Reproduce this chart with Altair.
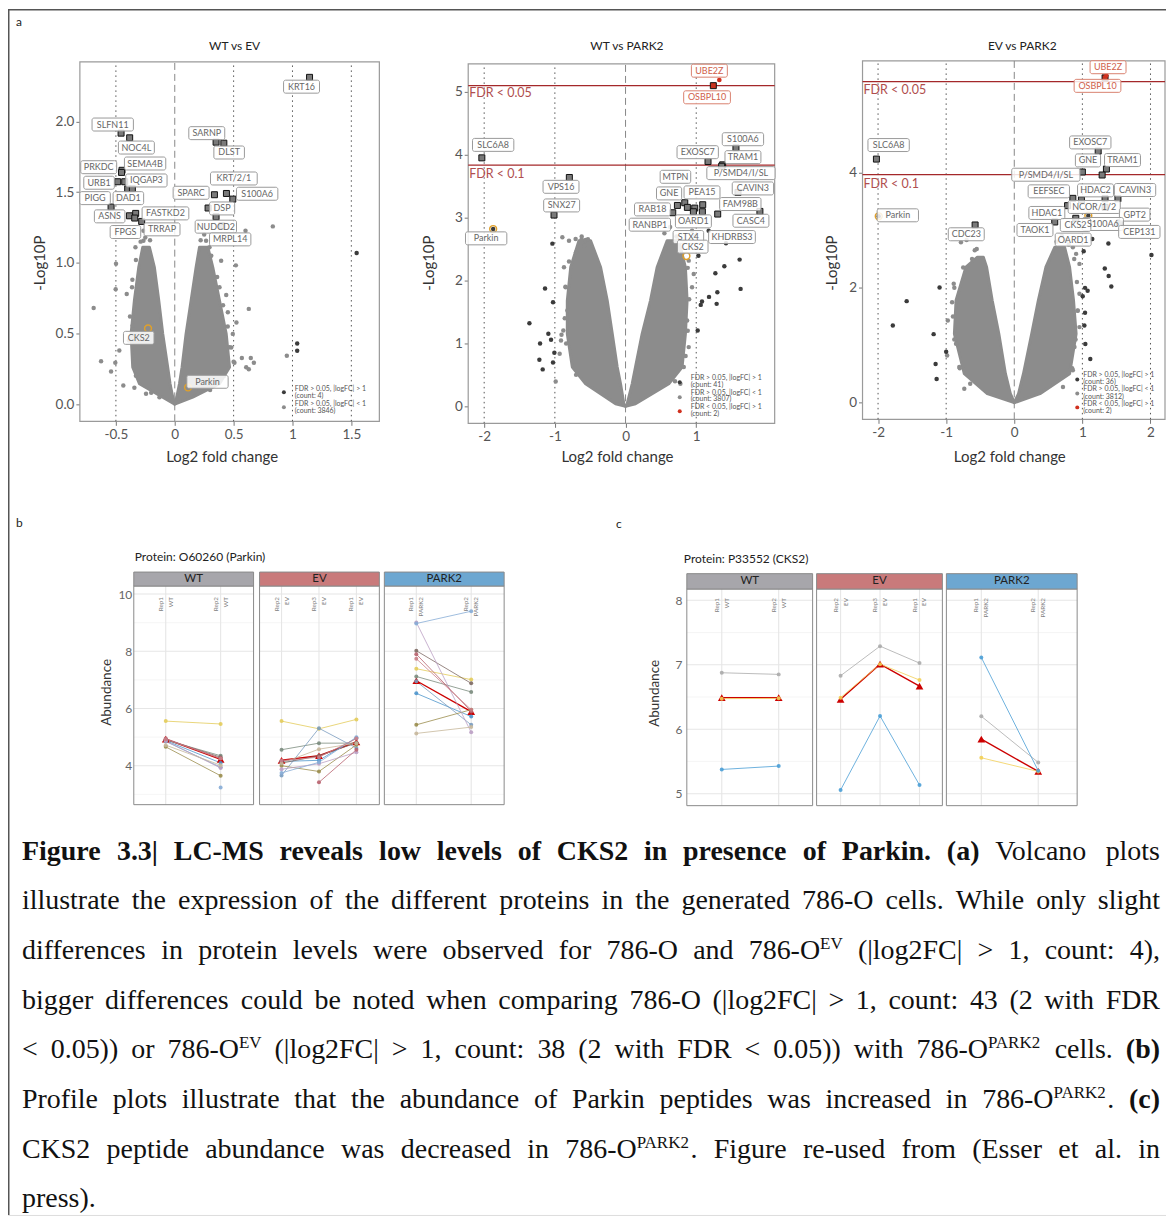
import altair as alt
import pandas as pd

W, H = 1160, 1208
SANS = "Lato"
SERIF = "Liberation Serif"

# =============== Panel a1: WT vs EV ===============
a1_cloud_y = [0, 0.049, 0.144, 0.261, 0.497, 0.733, 0.968, 1.110]
a1_left_outer = [0, -0.102, -0.300, -0.357, -0.371, -0.343, -0.306, -0.272]
a1_left_inner = [0, -0.017, -0.040, -0.060, -0.102, -0.136, -0.173, -0.215]
a1_right_inner = [0, 0.017, 0.040, 0.062, 0.096, 0.139, 0.181, 0.210]
a1_right_outer = [0, 0.153, 0.380, 0.465, 0.437, 0.380, 0.323, 0.281]
a1_gray_x = [0.833, -0.689, -0.626, -0.541, -0.505, -0.502, -0.499, 0.519, 0.524, 0.629, 0.570, 0.646,
             0.672, 0.607, 0.629, 0.507, 0.952, 0.601, 0.437, 0.451, 0.380, 0.266, 0.295, 0.394,
             -0.437, -0.343, -0.471, -0.357, -0.408, -0.363, -0.334, -0.266, -0.266, 0.210, 0.323,
             -0.130, 0.465, 0.493, -0.244,
             -0.39, -0.38, -0.36, -0.33, -0.29, -0.25, -0.21, 0.22, 0.25, 0.31, 0.36, 0.41, 0.45, 0.48,
             0.50, 0.42, 0.30, -0.33, -0.20]
a1_gray_y = [1.258, 0.681, 0.304, 0.231, 0.292, 0.813, 0.994, 0.982, 0.577, 0.674, 0.327, 0.327,
             0.292, 0.261, 0.247, 0.292, 0.342, 1.227, 0.773, 0.650, 0.827, 1.157, 1.110, 1.015,
             0.132, 0.115, 0.379, 0.556, 0.780, 0.827, 1.110, 1.157, 1.227, 0.097, 0.144,
             0.049, 0.403, 0.497, 0.073,
             0.45, 0.62, 0.88, 1.02, 1.15, 1.18, 1.16, 1.16, 1.20, 1.05, 0.90, 0.70, 0.55, 0.40,
             0.30, 0.20, 0.10, 0.20, 0.08]
a1_dark_x = [1.545, 1.040, 1.040]
a1_dark_y = [1.070, 0.429, 0.377]
a1_sq_x = [1.145, -0.456, -0.383, -0.448, -0.452, -0.485, -0.425, -0.400, -0.360, -0.541, -0.385,
           -0.332, -0.340, -0.281, 0.351, 0.417, 0.439, 0.337, 0.493, 0.283, 0.351, 0.400]
a1_sq_y = [2.313, 1.918, 1.885, 1.655, 1.640, 1.574, 1.574, 1.524, 1.524, 1.395, 1.333,
           1.350, 1.317, 1.293, 1.854, 1.847, 1.491, 1.482, 1.451, 1.388, 1.326, 1.262]
a1_lab_text = ["KRT16", "SLFN11", "NOC4L", "SEMA4B", "PRKDC", "URB1", "IQGAP3", "DAD1", "PIGG", "ASNS",
               "FASTKD2", "FPGS", "TRRAP", "SARNP", "DLST", "KRT/2/1", "SPARC", "S100A6", "DSP",
               "NUDCD2", "MRPL14", "CKS2", "Parkin"]
a1_lab_x = [1.077, -0.527, -0.326, -0.252, -0.646, -0.643, -0.241, -0.394, -0.677, -0.553, -0.079,
            -0.419, -0.108, 0.272, 0.462, 0.502, 0.139, 0.700, 0.402, 0.349, 0.471, -0.306, 0.278]
a1_lab_y = [2.247, 1.979, 1.816, 1.703, 1.677, 1.567, 1.583, 1.458, 1.458, 1.329, 1.350,
            1.218, 1.237, 1.918, 1.781, 1.597, 1.496, 1.489, 1.385, 1.256, 1.166, 0.469, 0.158]
a1_lab_red = [0] * 23
a1_ring_x = [-0.227, 0.113]
a1_ring_y = [0.535, 0.118]
a1_legend_text = ["FDR > 0.05, |logFC| > 1", "(count: 4)", "FDR > 0.05, |logFC| < 1", "(count: 3846)"]
a1_legend_ty = [0.104, 0.054, -0.002, -0.052]
a1_legend_dy = [0.083, -0.023]

# =============== Panel a2: WT vs PARK2 ===============
a2_cloud_y = [0, 0.042, 0.359, 0.624, 1.152, 1.681, 2.209, 2.632]
a2_left_outer = [0, -0.141, -0.565, -0.753, -0.824, -0.824, -0.776, -0.659]
a2_left_inner = [0, -0.024, -0.071, -0.118, -0.188, -0.259, -0.353, -0.494]
a2_right_inner = [0, 0.024, 0.094, 0.141, 0.235, 0.353, 0.447, 0.588]
a2_right_outer = [0, 0.141, 0.612, 0.800, 0.847, 0.871, 0.847, 0.753]
a2_gray_x = [-0.894, -0.800, -0.706, -0.621, -0.565, -0.532, -0.913, -0.880, -0.932, -0.988, -0.906,
             -0.847, -0.824, -0.871, 0.941, 0.988, 0.800, 0.894, 0.941, 0.871, 0.776, 0.894, 0.965,
             0.824, 0.659, 0.565,
             -0.62, -0.58, -0.70, -0.80, -0.85, -0.86, -0.84, -0.70, 0.55, 0.63, 0.72, 0.82, 0.88,
             0.90, 0.88, 0.85, 0.70]
a2_gray_y = [2.685, 2.632, 2.659, 2.653, 2.643, 2.653, 1.047, 1.205, 0.835, 0.396, 1.136,
             1.892, 1.522, 2.209, 2.791, 2.711, 2.421, 2.315, 1.892, 1.364, 0.359, 0.941, 2.104,
             0.624, 2.606, 2.500,
             2.70, 2.55, 2.45, 2.30, 1.90, 1.40, 1.00, 0.50, 2.75, 2.85, 2.70, 2.60, 2.20,
             1.70, 1.20, 0.80, 0.40]
a2_dark_x = [-1.360, -1.209, -1.219, -1.172, -1.139, -1.092, -1.054, -1.035, -1.026, -1.007, -1.026,
             1.614, 1.628, 1.398, 1.271, 1.299, 1.289, 1.181, 1.082, 1.064, 1.021, 1.031, 1.421, 1.176,
             -1.873]
a2_dark_y = [1.321, 0.999, 0.740, 0.587, 1.871, 1.152, 1.057, 2.585, 1.654, 0.851, 0.698,
             2.331, 1.866, 2.225, 2.114, 1.813, 1.628, 1.739, 1.665, 1.612, 1.205, 2.394, 2.590, 2.791,
             2.817]
a2_sq_x = [-2.033, -0.795, -1.012, 1.167, 1.562, 1.374, 1.360, 0.838, 0.875, 0.979, 0.960, 1.087,
           0.668, 0.734, 1.092, 1.304, 1.591, 1.901]
a2_sq_y = [3.948, 3.636, 3.039, 3.890, 4.107, 3.837, 3.815, 3.235, 3.161, 3.150, 3.092, 3.092,
           3.076, 3.192, 3.203, 3.055, 3.399, 3.097]
a2_redsq_x, a2_redsq_y = [1.242], [5.095]
a2_red_x, a2_red_y = [1.327], [5.185]
a2_lab_text = ["UBE2Z", "OSBPL10", "SLC6A8", "S100A6", "EXOSC7", "TRAM1", "P/SMD4/I/SL", "VPS16", "SNX27",
               "Parkin", "MTPN", "GNE", "PEA15", "CAVIN3", "FAM98B", "RAB18", "CASC4", "RANBP1", "OARD1",
               "STX4", "KHDRBS3", "CKS2"]
a2_lab_x = [1.186, 1.153, -1.873, 1.661, 1.021, 1.661, 1.633, -0.913, -0.904, -1.972, 0.706, 0.616, 1.082,
            1.802, 1.624, 0.381, 1.774, 0.344, 0.960, 0.889, 1.506, 0.951]
a2_lab_y = [5.333, 4.910, 4.154, 4.244, 4.038, 3.959, 3.705, 3.488, 3.192, 2.669, 3.647, 3.383, 3.399,
            3.462, 3.214, 3.129, 2.949, 2.886, 2.939, 2.690, 2.690, 2.537]
a2_lab_red = [1, 1] + [0] * 20
a2_ring_x = [-1.873, 0.861]
a2_ring_y = [2.817, 2.389]
a2_fdr_y = [5.095, 3.832]
a2_fdr_text = ["FDR < 0.05", "FDR < 0.1"]
a2_fdr_ty = [4.984, 3.694]
a2_legend_text = ["FDR > 0.05, |logFC| > 1", "(count: 41)", "FDR > 0.05, |logFC| < 1", "(count: 3807)",
                  "FDR < 0.05, |logFC| > 1", "(count: 2)"]
a2_legend_ty = [0.444, 0.333, 0.206, 0.111, -0.016, -0.127]
a2_legend_dy = [0.381, 0.143, -0.079]

# =============== Panel a3: EV vs PARK2 ===============
a3_cloud_yl = [0, 0.156, 0.504, 1.198, 1.777, 2.356, 2.530]
a3_left_outer = [0, -0.396, -0.734, -0.879, -0.855, -0.710, -0.541]
a3_left_inner = [0, -0.058, -0.130, -0.227, -0.324, -0.406, -0.454]
a3_cloud_yr = [0, 0.156, 0.504, 1.198, 1.777, 2.356, 2.703]
a3_right_inner = [0, 0.063, 0.135, 0.256, 0.353, 0.464, 0.594]
a3_right_outer = [0, 0.377, 0.812, 0.908, 0.870, 0.812, 0.739]
a3_gray_x = [-0.783, -0.700, -0.551, -0.889, -0.913, -0.976, -0.855, -0.986, -0.734, -0.647, -0.807,
             0.763, 0.860, 0.957, 0.957, 0.957, 0.860, 0.715, 0.908, 0.932, 0.884,
             -0.58, -0.62, -0.75, -0.88, -0.90, -0.88, -0.80, 0.62, 0.70, 0.80, 0.88, 0.92, 0.93, 0.90, 0.85]
a3_gray_y = [2.790, 2.831, 2.674, 2.067, 1.748, 1.430, 1.025, 0.822, 0.243, 0.330, 0.619,
             2.819, 2.703, 2.414, 1.893, 1.314, 0.562, 0.272, 2.588, 1.603, 0.967,
             2.65, 2.50, 2.35, 2.00, 1.50, 1.10, 0.60, 2.80, 2.90, 2.75, 2.50, 2.10, 1.60, 1.10, 0.60]
a3_dark_x = [-1.097, -1.580, -1.783, -1.184, -1.000, -1.155, -1.140,
             2.014, 1.382, 1.145, 1.019, 1.329, 1.386, 1.425, 1.039, 1.077, 1.005, 1.039, 1.029, 1.043, 1.116,
             -1.990, 1.087]
a3_dark_y = [2.003, 1.766, 1.343, 1.192, 0.886, 0.671, 0.411,
             2.570, 2.767, 2.848, 2.634, 2.333, 2.205, 2.020, 1.997, 1.945, 1.852, 1.563, 1.343, 1.019, 0.758,
             3.242, 3.253]
a3_sq_x = [-2.024, 1.232, 1.000, 1.353, 1.290, 0.860, 0.986, 1.333, 1.522, 0.783, 1.333, 0.594, 1.546,
           -0.575, 0.903]
a3_sq_y = [4.237, 4.376, 4.012, 4.064, 3.960, 3.554, 3.525, 3.548, 3.548, 3.427, 3.398, 3.143, 3.126,
           3.091, 3.207]
a3_redsq_x, a3_redsq_y = [1.333], [5.650]
a3_red_x, a3_red_y = [1.352], [5.690]
a3_lab_text = ["UBE2Z", "OSBPL10", "SLC6A8", "EXOSC7", "GNE", "TRAM1", "P/SMD4/I/SL", "EEFSEC", "HDAC2",
               "CAVIN3", "NCOR/1/2", "HDAC1", "GPT2", "Parkin", "CDC23", "TAOK1", "S100A6", "CKS2",
               "CEP131", "OARD1"]
a3_lab_x = [1.377, 1.222, -1.845, 1.116, 1.082, 1.589, 0.464, 0.507, 1.193, 1.773, 1.174, 0.478, 1.768,
            -1.710, -0.705, 0.304, 1.300, 0.900, 1.836, 0.865]
a3_lab_y = [5.835, 5.511, 4.481, 4.527, 4.214, 4.220, 3.965, 3.676, 3.693, 3.699, 3.404, 3.300, 3.271,
            3.259, 2.929, 3.004, 3.108, 3.091, 2.970, 2.836]
a3_lab_red = [1, 1] + [0] * 18
a3_ring_x = [-1.990, 1.087]
a3_ring_y = [3.242, 3.253]
a3_fdr_y = [5.586, 3.965]
a3_fdr_text = ["FDR < 0.05", "FDR < 0.1"]
a3_fdr_ty = [5.436, 3.809]
a3_legend_text = ["FDR > 0.05, |logFC| > 1", "(count: 36)", "FDR > 0.05, |logFC| < 1", "(count: 3812)",
                  "FDR < 0.05, |logFC| > 1", "(count: 2)"]
a3_legend_ty = [0.474, 0.352, 0.231, 0.092, -0.030, -0.151]
a3_legend_dy = [0.405, 0.161, -0.082]

# =============== Panel b: Parkin profile ===============
b_cats = {"WT": ["Rep1", "Rep2"], "EV": ["Rep2", "Rep3", "Rep1"], "PARK2": ["Rep1", "Rep2"]}
b_colors = ["#E3CC5B", "#7B8C7E", "#4C95CC", "#7A9CBF", "#9A8D4C", "#7E6A64", "#BBA0C4", "#B8626E",
            "#86ACD6", "#C6B79B", "#C97D86"]
b_WT = [[5.56, 5.46], [4.90, 4.35], [4.88, 4.10], [4.85, 3.95], [4.66, 3.65], [4.92, 4.30],
        [4.87, 3.92], [4.95, 4.26], [None, 3.24], [4.72, 4.02], [4.93, 4.25]]
b_EV = [[5.56, 5.29, 5.62], [4.56, 4.79, 4.79], [4.15, 4.19, 4.97], [3.66, 5.31, 4.62], [4.00, 3.80, 4.73],
        [4.09, 4.35, 4.80], [3.88, 4.07, 4.47], [None, 3.42, 4.56], [3.75, 4.12, 5.00], [4.09, 4.58, 4.79],
        [4.18, 4.30, 4.95]]
b_PK = [[7.39, 7.01], [7.12, 6.58], [6.53, 5.72], [6.95, 5.43], [5.43, 5.96], [8.02, 6.88], [9.01, 5.17],
        [7.90, 5.90], [8.97, 9.40], [5.13, 5.35], [7.74, 5.96]]
b_mean = {"WT": [4.93, 4.22], "EV": [4.19, 4.35, 4.83], "PARK2": [6.97, 5.89]}

# =============== Panel c: CKS2 profile ===============
c_cats = b_cats
c_colors = ["#ABABAB", "#F2CF55", "#4A9ED6"]
c_WT = [[6.876, 6.851], [6.474, 6.479], [5.376, 5.428]]
c_EV = [[6.830, 7.289, 7.026], [6.490, 7.010, 6.763], [5.057, 6.206, 5.134]]
c_PK = [[6.201, 5.485], [5.557, 5.345], [7.113, 5.356]]
c_mean = {"WT": [6.49, 6.49], "EV": [6.464, 7.010, 6.670], "PARK2": [5.845, 5.345]}

STRIP_COLORS = {"WT": "#A7A6AB", "EV": "#C97A7B", "PARK2": "#6DA7D1"}

CAPTION = [
    "**Figure 3.3| LC-MS reveals low levels of CKS2 in presence of Parkin. (a)** Volcano plots",
    "illustrate the expression of the different proteins in the generated 786-O cells. While only slight",
    "differences in protein levels were observed for 786-O and 786-O^{EV} (|log2FC| > 1, count: 4),",
    "bigger differences could be noted when comparing 786-O (|log2FC| > 1, count: 43 (2 with FDR",
    "< 0.05)) or 786-O^{EV} (|log2FC| > 1, count: 38 (2 with FDR < 0.05)) with 786-O^{PARK2} cells. **(b)**",
    "Profile plots illustrate that the abundance of Parkin peptides was increased in 786-O^{PARK2}. **(c)**",
    "CKS2 peptide abundance was decreased in 786-O^{PARK2}. Figure re-used from (Esser et al. in",
    "press).",
]


def frame(xd, yd):
    return pd.DataFrame({"x": [xd[0]], "x2": [xd[1]], "y": [yd[0]], "y2": [yd[1]]})


def volcano(c):
    xd, yd, xr, yr = c["xd"], c["yd"], c["xr"], c["yr"]
    kx = (xr[1] - xr[0]) / (xd[1] - xd[0])
    ky = (yr[0] - yr[1]) / (yd[1] - yd[0])
    sx = alt.Scale(domain=xd, range=xr, nice=False, zero=False)
    sy = alt.Scale(domain=yd, range=yr, nice=False, zero=False)
    xax = alt.Axis(orient="bottom", offset=yr[0] - H, values=c["xticks"], labelExpr="'' + datum.value",
                   grid=False, domain=False, tickColor="#777", tickSize=4, labelColor="#555", labelFont=SANS,
                   labelFontSize=13.5, labelPadding=2, labelFlush=False, labelOverlap=False,
                   title="Log2 fold change", titleFont=SANS, titleFontSize=15, titleFontWeight="normal",
                   titleColor="#333", titleY=c["xty"], titleX=c["xtx"], titleBaseline="middle")
    yax = alt.Axis(orient="left", offset=-xr[0], values=c["yticks"], format=c["yfmt"],
                   grid=False, domain=False, tickColor="#777", tickSize=4, labelColor="#555", labelFont=SANS,
                   labelFontSize=13.5, labelPadding=2, labelFlush=False, labelOverlap=False,
                   title="-Log10P", titleFont=SANS, titleFontSize=15, titleFontWeight="normal",
                   titleColor="#333", titleX=c["ytx"], titleY=254, titleBaseline="middle")
    X = alt.X("x:Q", scale=sx, axis=xax)
    Y = alt.Y("y:Q", scale=sy, axis=yax)
    X2, Y2 = alt.X2("x2"), alt.Y2("y2")
    L = []
    L.append(alt.Chart(frame(xd, yd)).mark_rect(fill="white", stroke="#9a9a9a", strokeWidth=1.2)
             .encode(x=X, x2=X2, y=Y, y2=Y2))
    vd = c["vdot"]
    L.append(alt.Chart(pd.DataFrame({"x": vd, "y": [yd[0]] * len(vd), "y2": [yd[1]] * len(vd)}))
             .mark_rule(color="#555", strokeWidth=1, strokeDash=[1.5, 3.5]).encode(x=X, y=Y, y2=Y2))
    L.append(alt.Chart(pd.DataFrame({"x": [0], "y": [yd[0]], "y2": [yd[1]]}))
             .mark_rule(color="#888", strokeWidth=1, strokeDash=[7, 4]).encode(x=X, y=Y, y2=Y2))
    for cy, co, ci in c["cloud"]:
        L.append(alt.Chart(pd.DataFrame({"y": cy, "x": co, "x2": ci}))
                 .mark_area(orient="horizontal", color="#8c8c8c", stroke="#8c8c8c", strokeWidth=3,
                            strokeJoin="round", opacity=1)
                 .encode(y=Y, x=X, x2=X2))
    L.append(alt.Chart(pd.DataFrame({"x": c["gx"], "y": c["gy"]}))
             .mark_circle(size=20, color="#8c8c8c", opacity=1).encode(x=X, y=Y))
    L.append(alt.Chart(pd.DataFrame({"x": c["dx"], "y": c["dy"]}))
             .mark_circle(size=20, color="#3b3b3b", opacity=1).encode(x=X, y=Y))
    if c.get("fdr"):
        L.append(alt.Chart(pd.DataFrame({"y": c["fdr"], "x": [xd[0]] * 2, "x2": [xd[1]] * 2}))
                 .mark_rule(color="#A4282A", strokeWidth=1.3).encode(y=Y, x=X, x2=X2))
    L.append(alt.Chart(pd.DataFrame({"x": c["sx"], "y": c["sy"]}))
             .mark_square(size=36, color="#7a7a7a", stroke="#111", strokeWidth=1, opacity=1)
             .encode(x=X, y=Y))
    if c.get("rsx"):
        L.append(alt.Chart(pd.DataFrame({"x": c["rsx"], "y": c["rsy"]}))
                 .mark_square(size=36, color="#C8321E", stroke="#111", strokeWidth=1, opacity=1)
                 .encode(x=X, y=Y))
        L.append(alt.Chart(pd.DataFrame({"x": c["rx"], "y": c["ry"]}))
                 .mark_circle(size=22, color="#D0301E", opacity=1).encode(x=X, y=Y))
    L.append(alt.Chart(pd.DataFrame({"x": c["ringx"], "y": c["ringy"]}))
             .mark_point(shape="circle", filled=False, size=48, stroke="#E0A02A", strokeWidth=1.4, opacity=1)
             .encode(x=X, y=Y))
    # label boxes
    t, lx, ly, red = c["lt"], c["lx"], c["ly"], c["lred"]
    hw = [(len(s) * 5.4 + 9) / 2 / kx for s in t]
    hh = 6.5 / ky
    box = pd.DataFrame({"x": [a - w for a, w in zip(lx, hw)], "x2": [a + w for a, w in zip(lx, hw)],
                        "y": [b - hh for b in ly], "y2": [b + hh for b in ly],
                        "s": ["#D9826F" if r else "#9a9a9a" for r in red]})
    L.append(alt.Chart(box).mark_rect(fill="white", fillOpacity=0.85, strokeWidth=1, cornerRadius=2)
             .encode(x=X, x2=X2, y=Y, y2=Y2, stroke=alt.Stroke("s:N", scale=None)))
    L.append(alt.Chart(pd.DataFrame({"x": lx, "y": ly, "t": t,
                                     "c": ["#D0604A" if r else "#666" for r in red]}))
             .mark_text(font=SANS, fontSize=9, baseline="middle", align="center")
             .encode(x=X, y=Y, text="t:N", color=alt.Color("c:N", scale=None)))
    if c.get("fdr"):
        L.append(alt.Chart(pd.DataFrame({"x": [xd[0] + 1 / kx] * 2, "y": c["fty"], "t": c["ftxt"]}))
                 .mark_text(font=SANS, fontSize=12.5, baseline="middle", align="left", color="#B04E4E")
                 .encode(x=X, y=Y, text="t:N"))
    # legend
    n = len(c["legd"])
    dcol = ["#3b3b3b", "#8c8c8c", "#D0301E"][:n]
    L.append(alt.Chart(pd.DataFrame({"x": [c["legdx"]] * n, "y": c["legd"], "c": dcol}))
             .mark_circle(size=16, opacity=1).encode(x=X, y=Y, color=alt.Color("c:N", scale=None)))
    L.append(alt.Chart(pd.DataFrame({"x": [c["legtx"]] * len(c["legt"]), "y": c["legty"], "t": c["legt"]}))
             .mark_text(font=SANS, fontSize=7, baseline="middle", align="left", color="#555")
             .encode(x=X, y=Y, text="t:N"))
    return alt.layer(*L)


def profile(p):
    xd, yd, xr, yr = p["xd"], p["yd"], p["xr"], p["yr"]
    kx = (xr[1] - xr[0]) / (xd[1] - xd[0])
    ky = (yr[0] - yr[1]) / (yd[1] - yd[0])
    sx = alt.Scale(domain=xd, range=xr, nice=False, zero=False)
    sy = alt.Scale(domain=yd, range=yr, nice=False, zero=False)
    if p["yaxis"]:
        yax = alt.Axis(orient="left", offset=-xr[0], values=p["yticks"], grid=False, domain=False, ticks=False,
                       labelColor="#666", labelFont=SANS, labelFontSize=12, labelPadding=p["lpad"],
                       labelFlush=False, labelOverlap=False, title="Abundance", titleFont=SANS,
                       titleFontSize=13.5, titleFontWeight="normal", titleColor="#333",
                       titleX=p["tx"], titleY=p["ty"], titleBaseline="middle")
    else:
        yax = None
    X = alt.X("x:Q", scale=sx, axis=None)
    Y = alt.Y("y:Q", scale=sy, axis=yax)
    X2, Y2 = alt.X2("x2"), alt.Y2("y2")
    cats = p["cats"]
    nc = len(cats)
    L = []
    L.append(alt.Chart(frame(xd, yd)).mark_rect(fill="white").encode(x=X, x2=X2, y=Y, y2=Y2))
    mn, mj = p["minor"], p["major"]
    L.append(alt.Chart(pd.DataFrame({"y": mn, "x": [xd[0]] * len(mn), "x2": [xd[1]] * len(mn)}))
             .mark_rule(color="#F1F1F1", strokeWidth=0.7).encode(y=Y, x=X, x2=X2))
    L.append(alt.Chart(pd.DataFrame({"y": mj, "x": [xd[0]] * len(mj), "x2": [xd[1]] * len(mj)}))
             .mark_rule(color="#E6E6E6", strokeWidth=1.1).encode(y=Y, x=X, x2=X2))
    L.append(alt.Chart(pd.DataFrame({"x": list(range(nc)), "y": [yd[0]] * nc, "y2": [yd[1]] * nc}))
             .mark_rule(color="#E6E6E6", strokeWidth=1.1).encode(x=X, y=Y, y2=Y2))
    ytop = yd[1] - p["labpx"] / ky
    labs = pd.DataFrame({"x": [j - 5 / kx for j in range(nc)] + [j + 5 / kx for j in range(nc)],
                         "y": [ytop] * (2 * nc), "t": cats + [p["group"]] * nc})
    L.append(alt.Chart(labs).mark_text(font=SANS, fontSize=6.3, angle=270, align="right", baseline="middle",
                                       color="#808080").encode(x=X, y=Y, text="t:N"))
    rows = []
    for i, (col, vals) in enumerate(zip(p["colors"], p["vals"])):
        for j, v in enumerate(vals):
            if v is not None:
                rows.append({"pep": i, "x": j, "y": v, "c": col})
    d = pd.DataFrame(rows)
    m = pd.DataFrame({"x": list(range(nc)), "y": p["mean"]})
    L.append(alt.Chart(m).mark_line(color="#CC0000", strokeWidth=1.4).encode(x=X, y=Y))
    L.append(alt.Chart(d).mark_line(strokeWidth=1, opacity=0.8)
             .encode(x=X, y=Y, detail="pep:N", color=alt.Color("c:N", scale=None)))
    L.append(alt.Chart(m).mark_point(shape="triangle-up", filled=True, size=60, color="#CC0000", opacity=1)
             .encode(x=X, y=Y))
    L.append(alt.Chart(d).mark_circle(size=16, opacity=0.9).encode(x=X, y=Y, color=alt.Color("c:N", scale=None)))
    L.append(alt.Chart(frame(xd, yd)).mark_rect(fill=None, stroke="#8a8a8a", strokeWidth=1)
             .encode(x=X, x2=X2, y=Y, y2=Y2))
    sh = p["strippx"] / ky
    L.append(alt.Chart(pd.DataFrame({"x": [xd[0]], "x2": [xd[1]], "y": [yd[1]], "y2": [yd[1] + sh]}))
             .mark_rect(fill=p["strip"], stroke="#8a8a8a", strokeWidth=1).encode(x=X, x2=X2, y=Y, y2=Y2))
    L.append(alt.Chart(pd.DataFrame({"x": [(xd[0] + xd[1]) / 2], "y": [yd[1] + sh / 2], "t": [p["group"]]}))
             .mark_text(font=SANS, fontSize=11.5, baseline="middle", align="center", color="#222")
             .encode(x=X, y=Y, text="t:N"))
    return alt.layer(*L)


# ---------- caption layout (Times metrics) ----------
REG = dict(zip("abcdefghijklmnopqrstuvwxyz",
               [444, 500, 444, 500, 444, 333, 500, 500, 278, 278, 500, 278, 778, 500, 500, 500, 500, 333, 389,
                278, 500, 500, 722, 500, 500, 444]))
REG.update(zip("ABCDEFGHIJKLMNOPQRSTUVWXYZ",
               [722, 667, 667, 722, 611, 556, 722, 722, 333, 389, 722, 611, 889, 722, 722, 556, 722, 667, 556,
                611, 722, 722, 944, 722, 722, 611]))
REG.update({d: 500 for d in "0123456789"})
REG.update({" ": 250, ".": 250, ",": 250, ":": 278, "|": 200, "-": 333, "(": 333, ")": 333, ">": 564,
            "<": 564, "/": 278})
BOLD = dict(zip("abcdefghijklmnopqrstuvwxyz",
                [500, 556, 444, 556, 444, 333, 500, 556, 278, 333, 556, 278, 833, 556, 500, 556, 556, 444, 389,
                 333, 556, 500, 722, 500, 500, 444]))
BOLD.update(zip("ABCDEFGHIJKLMNOPQRSTUVWXYZ",
                [722, 667, 722, 722, 667, 611, 778, 778, 389, 500, 778, 667, 944, 722, 778, 611, 778, 722, 556,
                 667, 722, 722, 1000, 722, 722, 667]))
BOLD.update({d: 500 for d in "0123456789"})
BOLD.update({" ": 250, ".": 250, ",": 250, ":": 333, "|": 220, "-": 333, "(": 333, ")": 333})

FS, SUPFS = 28, 17
CAP_X0, CAP_X1 = 14, 1154
CAP_BASE = [852, 902, 952, 1002, 1051, 1101, 1151, 1200]


def seg_w(s, kind):
    if kind == "b":
        return sum(BOLD.get(ch, 500) for ch in s) * FS / 1000
    if kind == "s":
        return sum(REG.get(ch, 500) for ch in s) * SUPFS / 1000
    return sum(REG.get(ch, 500) for ch in s) * FS / 1000


def parse(line):
    words, bold = [], False
    for raw in line.split(" "):
        w = raw
        if w.startswith("**"):
            bold, w = True, w[2:]
        endb = w.endswith("**")
        if endb:
            w = w[:-2]
        segs = []
        while w:
            k = w.find("^{")
            if k < 0:
                segs.append((w, "b" if bold else "n"))
                break
            if k > 0:
                segs.append((w[:k], "b" if bold else "n"))
            e = w.find("}", k)
            segs.append((w[k + 2:e], "s"))
            w = w[e + 1:]
        words.append(segs)
        if endb:
            bold = False
    return words


cap_rows = []
for li, line in enumerate(CAPTION):
    words = parse(line)
    ww = [sum(seg_w(s, k) for s, k in segs) for segs in words]
    if li < len(CAPTION) - 1 and len(words) > 1:
        gap = max((CAP_X1 - CAP_X0 - sum(ww)) / (len(words) - 1), 4)
    else:
        gap = 0.25 * FS
    xc = CAP_X0
    for segs, wdt in zip(words, ww):
        xs = xc
        for s, k in segs:
            cap_rows.append({"px": xs, "py": CAP_BASE[li] - (10 if k == "s" else 0), "t": s, "k": k})
            xs += seg_w(s, k)
        xc += wdt + gap
cap = pd.DataFrame(cap_rows)

PX = alt.X("px:Q", scale=None, axis=None)
PY = alt.Y("py:Q", scale=None, axis=None)
annot_layers = []
for kind, weight, size in [("n", "normal", FS), ("b", "bold", FS), ("s", "normal", SUPFS)]:
    annot_layers.append(alt.Chart(cap[cap.k == kind]).mark_text(font=SERIF, fontSize=size, fontWeight=weight,
                                                                   align="left", baseline="alphabetic",
                                                                   color="#111")
                        .encode(x=PX, y=PY, text="t:N"))
heads = pd.DataFrame({
    "px": [8, 8, 609, 227, 620, 1016, 127, 677],
    "py": [13, 515, 516, 37, 37, 37, 549, 551],
    "t": ["a", "b", "c", "WT vs EV", "WT vs PARK2", "EV vs PARK2", "Protein: O60260 (Parkin)",
          "Protein: P33552 (CKS2)"],
    "al": ["left", "left", "left", "center", "center", "center", "left", "left"],
})
for al in ["left", "center"]:
    annot_layers.append(alt.Chart(heads[heads.al == al]).mark_text(font=SANS, fontSize=12, align=al,
                                                                    baseline="middle", color="#222")
                        .encode(x=PX, y=PY, text="t:N"))
one = pd.DataFrame({"a": [0]})
annot_layers.append(alt.Chart(one).mark_rule(color="#555", strokeWidth=1.5)
                    .encode(x=alt.value(0.75), y=alt.value(0), y2=alt.value(H)))
annot_layers.append(alt.Chart(one).mark_rule(color="#555", strokeWidth=1.5)
                    .encode(y=alt.value(0.75), x=alt.value(0), x2=alt.value(W)))
annot = alt.layer(*annot_layers)

a1 = volcano(dict(xd=[-0.806, 1.738], yd=[-0.122, 2.422], xr=[72, 372], yr=[413, 53],
                  xticks=[-0.5, 0, 0.5, 1, 1.5], yticks=[0, 0.5, 1, 1.5, 2], yfmt=".1f",
                  xty=35, xtx=214, ytx=-40,
                  vdot=[-0.5, 0.5, 1, 1.5],
                  cloud=[(a1_cloud_y, a1_left_outer, a1_left_inner), (a1_cloud_y, a1_right_outer, a1_right_inner)],
                  gx=a1_gray_x, gy=a1_gray_y, dx=a1_dark_x, dy=a1_dark_y, sx=a1_sq_x, sy=a1_sq_y,
                  ringx=a1_ring_x, ringy=a1_ring_y, lt=a1_lab_text, lx=a1_lab_x, ly=a1_lab_y, lred=a1_lab_red,
                  legd=a1_legend_dy, legdx=0.927, legt=a1_legend_text, legty=a1_legend_ty, legtx=1.020))
a2 = volcano(dict(xd=[-2.226, 2.11], yd=[-0.27, 5.44], xr=[461, 768], yr=[415, 55],
                  xticks=[-2, -1, 0, 1], yticks=[0, 1, 2, 3, 4, 5], yfmt="d",
                  xty=33, xtx=610, ytx=-40,
                  vdot=[-2, -1, 1],
                  cloud=[(a2_cloud_y, a2_left_outer, a2_left_inner), (a2_cloud_y, a2_right_outer, a2_right_inner)],
                  gx=a2_gray_x, gy=a2_gray_y, dx=a2_dark_x, dy=a2_dark_y, sx=a2_sq_x, sy=a2_sq_y,
                  rsx=a2_redsq_x, rsy=a2_redsq_y, rx=a2_red_x, ry=a2_red_y,
                  ringx=a2_ring_x, ringy=a2_ring_y, lt=a2_lab_text, lx=a2_lab_x, ly=a2_lab_y, lred=a2_lab_red,
                  fdr=a2_fdr_y, ftxt=a2_fdr_text, fty=a2_fdr_ty,
                  legd=a2_legend_dy, legdx=0.767, legt=a2_legend_text, legty=a2_legend_ty, legtx=0.922))
a3 = volcano(dict(xd=[-2.228, 2.213], yd=[-0.29, 5.944], xr=[856, 1159], yr=[411, 52],
                  xticks=[-2, -1, 0, 1, 2], yticks=[0, 2, 4], yfmt="d",
                  xty=37, xtx=1003, ytx=-31,
                  vdot=[-2, -1, 1, 2],
                  cloud=[(a3_cloud_yl, a3_left_outer, a3_left_inner), (a3_cloud_yr, a3_right_outer, a3_right_inner)],
                  gx=a3_gray_x, gy=a3_gray_y, dx=a3_dark_x, dy=a3_dark_y, sx=a3_sq_x, sy=a3_sq_y,
                  rsx=a3_redsq_x, rsy=a3_redsq_y, rx=a3_red_x, ry=a3_red_y,
                  ringx=a3_ring_x, ringy=a3_ring_y, lt=a3_lab_text, lx=a3_lab_x, ly=a3_lab_y, lred=a3_lab_red,
                  fdr=a3_fdr_y, ftxt=a3_fdr_text, fty=a3_fdr_ty,
                  legd=a3_legend_dy, legdx=0.925, legt=a3_legend_text, legty=a3_legend_ty, legtx=1.012))

b_panels = []
for g, xd, xr, vals in [("WT", [-0.582, 1.6], [126, 246], b_WT), ("EV", [-0.587, 2.613], [252, 372], b_EV),
                        ("PARK2", [-0.582, 1.6], [377, 497], b_PK)]:
    b_panels.append(profile(dict(xd=xd, xr=xr, yd=[2.64, 10.28], yr=[797, 578], cats=b_cats[g], group=g,
                                 colors=b_colors, vals=vals, mean=b_mean[g], strip=STRIP_COLORS[g],
                                 major=[4, 6, 8, 10], minor=[3, 5, 7, 9], yaxis=(g == "WT"), yticks=[4, 6, 8, 10],
                                 lpad=2, tx=-27, ty=684, strippx=14, labpx=11)))
c_panels = []
for g, xd, xr, vals in [("WT", [-0.614, 1.596], [680, 806], c_WT), ("EV", [-0.608, 2.58], [810, 936], c_EV),
                        ("PARK2", [-0.614, 1.684], [940, 1071], c_PK)]:
    c_panels.append(profile(dict(xd=xd, xr=xr, yd=[4.814, 8.175], yr=[798, 581], cats=c_cats[g], group=g,
                                 colors=c_colors, vals=vals, mean=c_mean[g], strip=STRIP_COLORS[g],
                                 major=[5, 6, 7, 8], minor=[5.5, 6.5, 7.5], yaxis=(g == "WT"), yticks=[5, 6, 7, 8],
                                 lpad=5, tx=-32, ty=685, strippx=15.4, labpx=9)))

chart = alt.layer(a1, a2, a3, *b_panels, *c_panels, annot).resolve_scale(
    x="independent", y="independent"
).properties(
    width=W, height=H, padding=0, autosize=alt.AutoSizeParams(type="none")
).configure_view(stroke=None).configure(background="white")

chart.save("out.html", embed_options={"renderer": "svg", "actions": False})
